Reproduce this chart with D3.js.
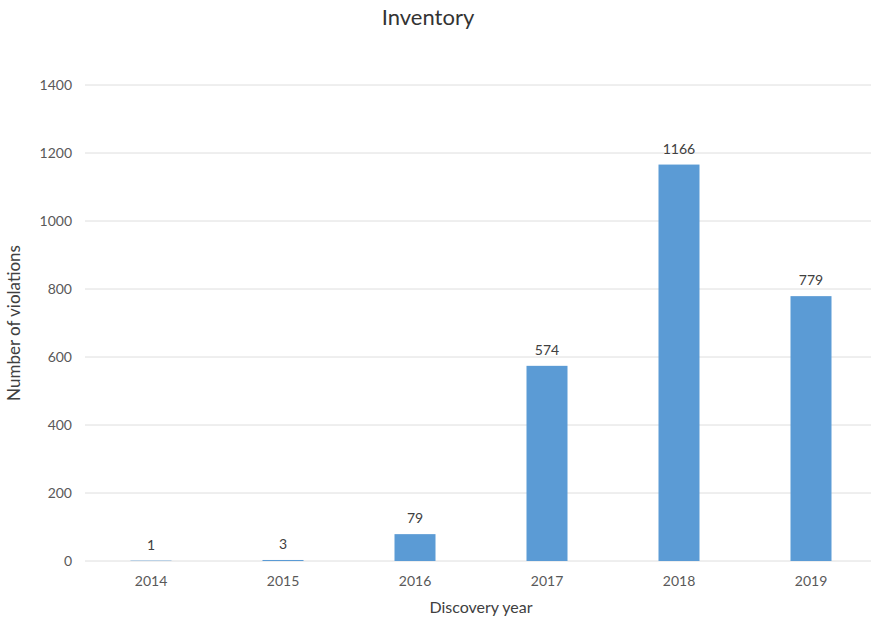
<!DOCTYPE html>
<html><head><meta charset="utf-8">
<script src="https://cdn.jsdelivr.net/npm/d3@7/dist/d3.min.js"></script>
<style>body{margin:0;background:#fff;} svg{display:block;}</style>
</head><body>
<script>
const years = ["2014","2015","2016","2017","2018","2019"];
const violations = [1, 3, 79, 574, 1166, 779];
const yTicks = [0, 200, 400, 600, 800, 1000, 1200, 1400];
const titleText = "Inventory";
const xTitle = "Discovery year";
const yTitle = "Number of violations";

const W = 871, H = 620;
const font = "Lato, 'Open Sans', sans-serif";
const svg = d3.select("body").append("svg").attr("width", W).attr("height", H);

const x = d3.scaleBand().domain(years).range([85, 877]).paddingInner(0.69).paddingOuter(0.345);
const y = d3.scaleLinear().domain([0, 1400]).range([561, 85]);

// gridlines
svg.append("g").selectAll("line").data(yTicks).join("line")
  .attr("x1", 85).attr("x2", W).attr("y1", d => y(d)).attr("y2", d => y(d))
  .attr("stroke", "#dedede").attr("stroke-width", 1);

// y axis labels
const yAxis = d3.axisLeft(y).tickValues(yTicks).tickFormat(d3.format("d")).tickSize(0).tickPadding(0);
const gy = svg.append("g").attr("transform", "translate(72,0)").call(yAxis);
gy.select(".domain").remove();
gy.selectAll("text").attr("font-family", font).attr("font-size", 14).attr("fill", "#595959");

// x axis labels
const xAxis = d3.axisBottom(x).tickSize(0).tickPadding(0);
const gx = svg.append("g").attr("transform", "translate(0,576)").call(xAxis);
gx.select(".domain").remove();
gx.selectAll("text").attr("font-family", font).attr("font-size", 14).attr("fill", "#595959");

// bars
const bw = 41;
svg.append("g").selectAll("rect").data(years).join("rect")
  .attr("x", d => x(d) + x.bandwidth()/2 - bw/2)
  .attr("width", bw)
  .attr("y", (d,i) => y(violations[i]))
  .attr("height", (d,i) => y(0) - y(violations[i]))
  .attr("fill", "#5b9bd5");

// value labels
svg.append("g").selectAll("text").data(years).join("text")
  .attr("x", d => x(d) + x.bandwidth()/2)
  .attr("y", (d,i) => y(violations[i]) - 11)
  .attr("text-anchor", "middle")
  .attr("font-family", font).attr("font-size", 14).attr("fill", "#404040")
  .text((d,i) => violations[i]);

// title
svg.append("text").attr("x", 428).attr("y", 25).attr("text-anchor", "middle")
  .attr("font-family", font).attr("font-size", 22).attr("fill", "#333")
  .text(titleText);

// axis titles
svg.append("text").attr("x", 481).attr("y", 613).attr("text-anchor", "middle")
  .attr("font-family", font).attr("font-size", 16).attr("fill", "#404040").text(xTitle);
svg.append("text").attr("transform", "translate(20,323) rotate(-90)").attr("text-anchor", "middle")
  .attr("font-family", font).attr("font-size", 17).attr("fill", "#404040").text(yTitle);
</script>
</body></html>
